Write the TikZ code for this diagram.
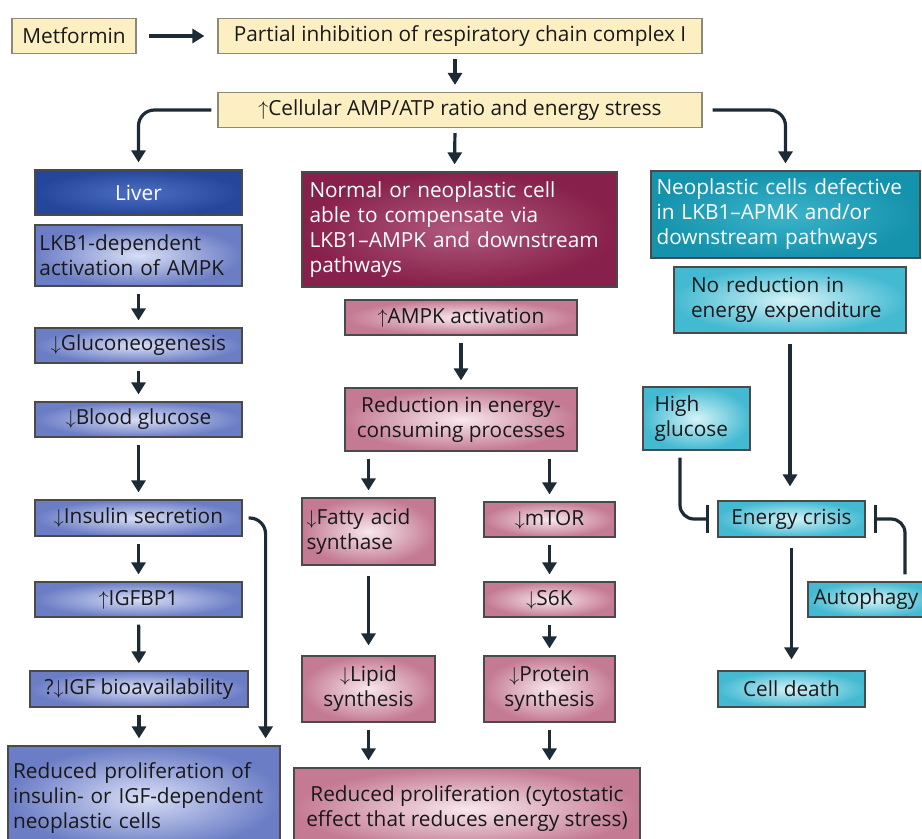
\documentclass[tikz,border=0pt]{standalone}
\usepackage{fontspec}
\setmainfont{Open Sans}
\usetikzlibrary{arrows.meta}
\definecolor{ink}{HTML}{1C2B36}
\definecolor{edge}{HTML}{4A4A4A}
\definecolor{yel}{HTML}{FCEFC2}
\definecolor{yeledge}{HTML}{8C8A78}
\definecolor{bluein}{HTML}{D8DEF6}
\definecolor{blueout}{HTML}{6B7DC5}
\definecolor{liverin}{HTML}{4D6FC2}
\definecolor{liverout}{HTML}{25469A}
\definecolor{marin}{HTML}{B05A7C}
\definecolor{marout}{HTML}{87204A}
\definecolor{pinkin}{HTML}{F8E8ED}
\definecolor{pinkout}{HTML}{C47A92}
\definecolor{tealin}{HTML}{3CB4CB}
\definecolor{tealout}{HTML}{1592AC}
\definecolor{cyanin}{HTML}{D6F3F8}
\definecolor{cyanout}{HTML}{44BAD2}
\newcommand{\incr}{$\uparrow$}
\newcommand{\decr}{$\downarrow$}

\begin{document}
\begin{tikzpicture}[x=0.5pt,y=-0.5pt,
    font=\fontsize{10.4pt}{12.5pt}\selectfont,
    box/.style={draw=edge,line width=0.6pt,inner sep=1.5pt,minimum height=17.5pt,text=black!90},
    yellowbox/.style={box,draw=yeledge,fill=yel},
    bluebox/.style={box,inner color=bluein,outer color=blueout},
    liverbox/.style={box,inner color=liverin,outer color=liverout,text=white},
    marbox/.style={box,inner color=marin,outer color=marout,text=white},
    pinkbox/.style={box,inner color=pinkin,outer color=pinkout},
    tealbox/.style={box,inner color=tealin,outer color=tealout,text=white},
    cyanbox/.style={box,inner color=cyanin,outer color=cyanout},
    arr/.style={ink,line width=1.6pt,-{Triangle[width=7pt,length=6pt]},shorten <=3.5pt,shorten >=3.5pt},
    inh/.style={ink,line width=1.6pt,-{Bar[width=14pt]},shorten <=3.5pt,shorten >=4pt,rounded corners=7pt}]
  \useasboundingbox (0,0) rectangle (922,839);

  % top
  \node[yellowbox,minimum width=62pt] (met) at (74,36) {Metformin};
  \node[yellowbox,minimum width=242pt] (pic) at (460,36) {Partial inhibition of respiratory chain complex I};
  \node[yellowbox,minimum width=242pt] (cell) at (460,110) {\incr Cellular AMP/ATP ratio and energy stress};

  % liver column
  \node[liverbox,minimum width=103.5pt,minimum height=22.5pt] (liver) at (138.5,192.5) {Liver};
  \node[bluebox,minimum width=103.5pt,minimum height=30.5pt,text width=99pt,align=left] (lkb) at (138.5,255.5) {LKB1-dependent\\activation of AMPK};
  \node[bluebox,minimum width=103.5pt] (glu) at (138.5,345.5) {\decr Gluconeogenesis};
  \node[bluebox,minimum width=103.5pt] (bg) at (138.5,419.5) {\decr Blood glucose};
  \node[bluebox,minimum width=103.5pt,minimum height=18pt] (ins) at (138.5,518) {\decr Insulin secretion};
  \node[bluebox,minimum width=103.5pt] (igfbp) at (138.5,599.5) {\incr IGFBP1};
  \node[bluebox,minimum width=109pt,minimum height=18pt] (igf) at (139,689) {?\decr IGF bioavailability};
  \node[bluebox,minimum width=136pt,minimum height=52pt,text width=131pt,align=left] (redL) at (144,798) {Reduced proliferation of\\insulin- or IGF-dependent\\neoplastic cells};

  % compensating cell column
  \node[marbox,minimum width=157.5pt,minimum height=57.5pt,text width=150pt,align=left] (norm) at (459.5,229.5) {Normal or neoplastic cell\\able to compensate via\\LKB1--AMPK and downstream\\pathways};
  \node[pinkbox,minimum width=116pt] (ampk) at (461,317.5) {\incr AMPK activation};
  \node[pinkbox,minimum width=116pt,minimum height=31.5pt,align=center] (recp) at (461,419.5) {Reduction in energy-\\consuming processes};
  \node[pinkbox,minimum width=66.5pt,minimum height=33.5pt,text width=62pt,align=left] (fas) at (368.5,531.5) {\decr Fatty acid\\synthase};
  \node[pinkbox,minimum width=65.5pt] (mtor) at (549.5,519.5) {\decr mTOR};
  \node[pinkbox,minimum width=65.5pt] (s6k) at (549.5,599.5) {\decr S6K};
  \node[pinkbox,minimum width=66.5pt,minimum height=33pt,align=center] (lip) at (368.5,689) {\decr Lipid\\synthesis};
  \node[pinkbox,minimum width=65.5pt,minimum height=33pt,align=center] (prot) at (549.5,689) {\decr Protein\\synthesis};
  \node[pinkbox,minimum width=173pt,minimum height=41pt,align=center] (redM) at (467,809) {Reduced proliferation (cytostatic\\effect that reduces energy stress)};

  % defective cell column
  \node[tealbox,minimum width=134.5pt,minimum height=43.5pt,text width=129pt,align=left] (neo) at (785.5,214.5) {Neoplastic cells defective\\in LKB1--APMK and/or\\downstream pathways};
  \node[cyanbox,minimum width=116pt,minimum height=33pt,text width=99pt,align=left] (noe) at (790,300) {No reduction in\\energy expenditure};
  \node[cyanbox,minimum width=53.5pt,minimum height=31.5pt,text width=42pt,align=left] (hg) at (696.5,418.5) {High\\glucose};
  \node[cyanbox,minimum width=73.5pt,minimum height=18pt] (ec) at (791.5,519) {Energy crisis};
  \node[cyanbox,minimum width=63.5pt,text width=58pt,align=left] (aut) at (871.5,599.5) {Autophagy};
  \node[cyanbox,minimum width=73.5pt,minimum height=18pt] (cd) at (791.5,689) {Cell death};

  % arrows
  \draw[arr,shorten <=6pt,shorten >=6.5pt] (met) -- (pic);
  \draw[arr,shorten <=2.5pt] ([xshift=-2.5pt]pic.south) -- ([xshift=-2.5pt]cell.north);
  \draw[arr,rounded corners=8pt,shorten <=3pt] (cell.west) -| (liver.north);
  \draw[arr,rounded corners=8pt,shorten <=5pt] (cell.east) -| (neo.north);
  \draw[arr,shorten <=2.5pt] ([xshift=-2.5pt]cell.south) -- ([xshift=-2.5pt]norm.north);

  \draw[arr] (lkb) -- (glu);
  \draw[arr] (glu) -- (bg);
  \draw[arr] (bg) -- (ins);
  \draw[arr] (ins) -- (igfbp);
  \draw[arr] (igfbp) -- (igf);
  \draw[arr] (igf.south) -- (igf.south |- redL.north);
  \draw[arr,rounded corners=8pt,shorten <=3pt] (ins.east) -| ([xshift=-7.5pt]redL.north east);

  \draw[arr] (ampk) -- (recp);
  \draw[arr] (recp.south -| fas) -- (fas);
  \draw[arr] (recp.south -| mtor) -- (mtor);
  \draw[arr,shorten <=5pt,shorten >=5pt] (fas) -- (lip);
  \draw[arr] (mtor) -- (s6k);
  \draw[arr] (s6k) -- (prot);
  \draw[arr] (lip) -- (lip |- redM.north);
  \draw[arr] (prot) -- (prot |- redM.north);

  \draw[arr,shorten <=5pt,shorten >=7pt] (noe.south) -- (noe.south |- ec.north);
  \draw[inh] ([xshift=-8.25pt]hg.south) |- (ec.west);
  \draw[inh] ([xshift=16.75pt]aut.north) |- (ec.east);
  \draw[arr,shorten <=5pt,shorten >=5.5pt] (ec) -- (cd);
\end{tikzpicture}
\end{document}
